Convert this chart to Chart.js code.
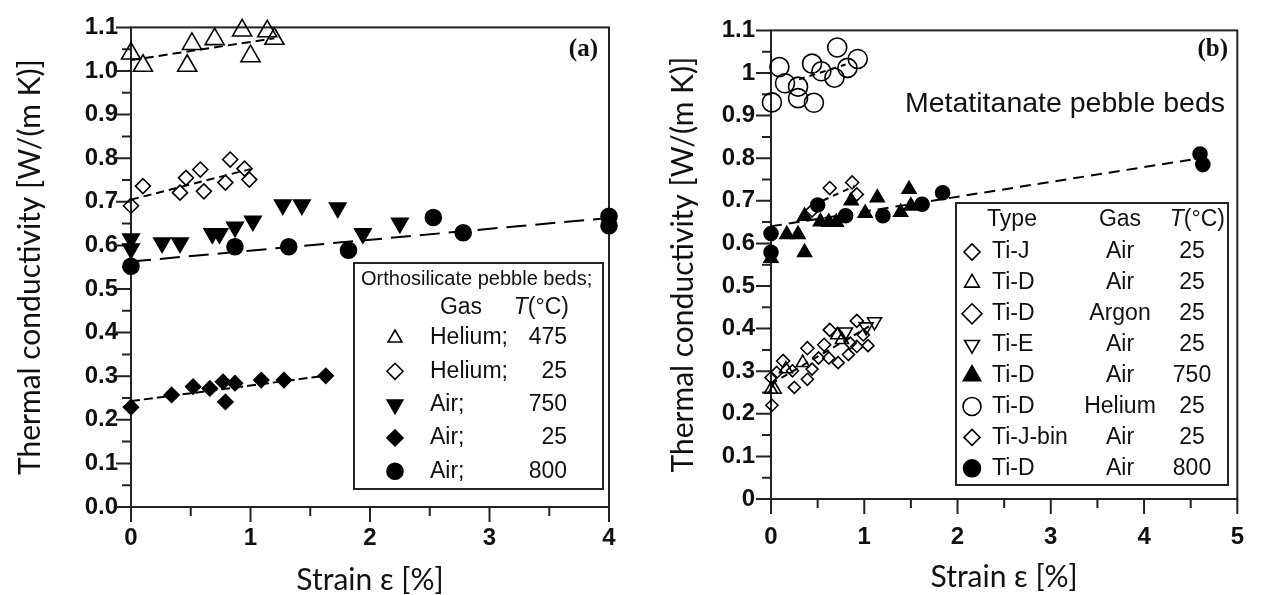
<!DOCTYPE html>
<html>
<head>
<meta charset="utf-8">
<script src="https://cdn.jsdelivr.net/npm/chart.js@4.4.1/dist/chart.umd.min.js"></script>
<style>
html, body { margin: 0; padding: 0; background: #fff; }
#wrap { position: relative; width: 1268px; height: 595px; overflow: hidden; }
canvas { position: absolute; top: 0; }
</style>
</head>
<body>
<div id="wrap">
  <canvas id="chartA" width="634" height="595" style="left:0"></canvas>
  <canvas id="chartB" width="634" height="595" style="left:634px"></canvas>
</div>
<script>
// ---- panel (a): orthosilicate pebble beds ----
const xTicksA = [0, 1, 2, 3, 4];
const yTicksA = [0, 0.1, 0.2, 0.3, 0.4, 0.5, 0.6, 0.7, 0.8, 0.9, 1.0, 1.1];
const yLabelsA = ["0.0", "0.1", "0.2", "0.3", "0.4", "0.5", "0.6", "0.7", "0.8", "0.9", "1.0", "1.1"];

const he475X = [0, 0.10, 0.47, 0.51, 0.70, 0.93, 1.00, 1.14, 1.20];
const he475Y = [1.040, 1.012, 1.012, 1.062, 1.073, 1.093, 1.034, 1.091, 1.074];
const he25X = [0, 0.10, 0.41, 0.46, 0.58, 0.61, 0.79, 0.83, 0.95, 0.99];
const he25Y = [0.691, 0.736, 0.721, 0.755, 0.774, 0.724, 0.744, 0.797, 0.776, 0.751];
const air750X = [0, 0, 0.26, 0.41, 0.68, 0.74, 0.87, 1.02, 1.27, 1.43, 1.73, 1.94, 2.25];
const air750Y = [0.615, 0.592, 0.606, 0.606, 0.627, 0.627, 0.642, 0.656, 0.693, 0.693, 0.686, 0.627, 0.651];
const air25X = [0, 0.34, 0.52, 0.66, 0.77, 0.79, 0.87, 1.09, 1.28, 1.63];
const air25Y = [0.229, 0.257, 0.276, 0.272, 0.287, 0.241, 0.284, 0.291, 0.291, 0.301];
const air800X = [0, 0.87, 1.32, 1.82, 2.53, 2.78, 4.0, 4.0];
const air800Y = [0.552, 0.597, 0.597, 0.589, 0.664, 0.629, 0.667, 0.645];

// dashed fit lines (end points)
const fitHe475X = [0, 1.2], fitHe475Y = [1.025, 1.075];
const fitHe25X = [0, 1.0], fitHe25Y = [0.705, 0.775];
const fitAir800X = [0, 4.0], fitAir800Y = [0.563, 0.663];
const fitAir25X = [0, 1.6], fitAir25Y = [0.243, 0.300];

const legendGasA = ["Helium;", "Helium;", "Air;", "Air;", "Air;"];
const legendTempA = ["475", "25", "750", "25", "800"];

// ---- panel (b): metatitanate pebble beds ----
const xTicksB = [0, 1, 2, 3, 4, 5];
const yTicksB = [0, 0.1, 0.2, 0.3, 0.4, 0.5, 0.6, 0.7, 0.8, 0.9, 1.0, 1.1];
const yLabelsB = ["0", "0.1", "0.2", "0.3", "0.4", "0.5", "0.6", "0.7", "0.8", "0.9", "1", "1.1"];

const tiJX = [0.01, 0.25, 0.39, 0.51, 0.62, 0.72, 0.83, 1.04];
const tiJY = [0.220, 0.262, 0.281, 0.331, 0.331, 0.320, 0.339, 0.360];
const tiDAirX = [0, 0.04, 0.16, 0.34, 0.71, 0.76];
const tiDAirY = [0.257, 0.257, 0.305, 0.320, 0.385, 0.374];
const tiDArgonX = [0.13, 0.39, 0.57, 0.63, 0.92, 0.44, 0.63, 0.87, 0.92];
const tiDArgonY = [0.324, 0.354, 0.362, 0.397, 0.418, 0.677, 0.730, 0.743, 0.715];
const tiEX = [0.80, 1.02, 1.11];
const tiEY = [0.392, 0.404, 0.416];
const tiD750X = [0, 0.17, 0.29, 0.36, 0.36, 0.53, 0.62, 0.70, 0.86, 1.01, 1.14, 1.39, 1.48, 1.50];
const tiD750Y = [0.565, 0.621, 0.621, 0.579, 0.664, 0.651, 0.650, 0.650, 0.700, 0.671, 0.707, 0.673, 0.727, 0.688];
const tiDHeX = [0.01, 0.09, 0.15, 0.29, 0.29, 0.44, 0.46, 0.54, 0.68, 0.71, 0.82, 0.93];
const tiDHeY = [0.931, 1.014, 0.976, 0.968, 0.941, 1.022, 0.930, 1.004, 0.989, 1.060, 1.012, 1.033];
const tiJbinX = [0, 0.06, 0.23, 0.44, 0.85, 0.92, 0.99];
const tiJbinY = [0.285, 0.297, 0.301, 0.305, 0.366, 0.358, 0.385];
const tiD800X = [0, 0, 0.50, 0.80, 1.20, 1.62, 1.84, 4.60, 4.63];
const tiD800Y = [0.623, 0.579, 0.690, 0.665, 0.665, 0.692, 0.719, 0.810, 0.785];

const fitHeBX = [0.3, 0.8], fitHeBY = [0.985, 1.02];
const fitUpperX = [0, 4.6], fitUpperY = [0.64, 0.80];
const fitArgonX = [0.45, 0.9], fitArgonY = [0.69, 0.735];
const fitLowerX = [0, 1.05], fitLowerY = [0.27, 0.405];

const legendTypeB = ["Ti-J", "Ti-D", "Ti-D", "Ti-E", "Ti-D", "Ti-D", "Ti-J-bin", "Ti-D"];
const legendGasB = ["Air", "Air", "Argon", "Air", "Air", "Helium", "Air", "Air"];
const legendTempB = ["25", "25", "25", "25", "750", "25", "25", "800"];

Chart.defaults.font.family = "'Liberation Sans', Arial, sans-serif";
Chart.defaults.color = "#000";

const OPEN = "rgba(0,0,0,0)";
const pts = (xs, ys) => xs.map((x, i) => ({ x: x, y: ys[i] }));

const markers = (label, xs, ys, style, r, filled, rot) => ({
    type: "scatter",
    label: label,
    data: pts(xs, ys),
    pointStyle: style,
    pointRadius: r,
    pointHoverRadius: r,
    pointRotation: rot || 0,
    pointBorderWidth: 1.6,
    pointBorderColor: "#000",
    pointBackgroundColor: filled ? "#000" : OPEN,
    showLine: false,
    clip: false,
});

const fitLine = (xs, ys, dash) => ({
    type: "line",
    label: "fit",
    data: pts(xs, ys),
    borderColor: "#000",
    borderWidth: 2,
    borderDash: dash,
    pointRadius: 0,
    fill: false,
    clip: false,
});

// frame + outward major/minor ticks
const frameTicks = {
    id: "frameTicks",
    beforeDatasetsDraw(chart) {
        const { ctx, chartArea: a, scales } = chart;
        ctx.save();
        ctx.strokeStyle = "#222";
        ctx.lineWidth = 2;
        ctx.strokeRect(a.left, a.top, a.right - a.left, a.bottom - a.top);
        ctx.beginPath();
        const xt = scales.x.ticks.map((t) => t.value);
        xt.forEach((v, i) => {
            const p = scales.x.getPixelForValue(v);
            ctx.moveTo(p, a.bottom);
            ctx.lineTo(p, a.bottom + 15);
            if (i < xt.length - 1) {
                const m = scales.x.getPixelForValue((v + xt[i + 1]) / 2);
                ctx.moveTo(m, a.bottom);
                ctx.lineTo(m, a.bottom + 9);
            }
        });
        const yt = scales.y.ticks.map((t) => t.value);
        yt.forEach((v, i) => {
            const p = scales.y.getPixelForValue(v);
            ctx.moveTo(a.left, p);
            ctx.lineTo(a.left - 15, p);
            if (i < yt.length - 1) {
                const m = scales.y.getPixelForValue((v + yt[i + 1]) / 2);
                ctx.moveTo(a.left, m);
                ctx.lineTo(a.left - 9, m);
            }
        });
        ctx.stroke();
        ctx.restore();
    },
};

const symbol = (ctx, style, r, filled, rot, x, y) => {
    ctx.save();
    ctx.strokeStyle = "#000";
    ctx.fillStyle = filled ? "#000" : OPEN;
    ctx.lineWidth = 1.6;
    Chart.helpers.drawPoint(ctx, { pointStyle: style, radius: r, rotation: rot || 0, borderWidth: 1.6 }, x, y);
    ctx.restore();
};

const makeOptions = (xTicks, yTicks, yLabels, o) => ({
    responsive: false,
    animation: false,
    events: [],
    layout: { padding: { top: 21, right: o.padRight, left: 0, bottom: 0 } },
    plugins: { legend: { display: false }, tooltip: { enabled: false } },
    scales: {
        x: {
            type: "linear",
            min: xTicks[0],
            max: xTicks[xTicks.length - 1],
            afterBuildTicks: (s) => { s.ticks = xTicks.map((v) => ({ value: v })); },
            afterFit: (s) => { s.height = o.xHeight; },
            grid: { display: false, drawTicks: false },
            border: { display: false },
            ticks: { font: { size: 24, weight: "bold" }, color: "#111", padding: o.xPad, maxRotation: 0, autoSkip: false },
            title: {
                display: true,
                text: "Strain ε [%]",
                font: { family: "Lato", size: 30, lineHeight: 1 },
                color: "#111",
                padding: { top: 0, bottom: o.xTitlePad },
            },
        },
        y: {
            type: "linear",
            min: yTicks[0],
            max: yTicks[yTicks.length - 1],
            afterBuildTicks: (s) => { s.ticks = yTicks.map((v) => ({ value: v })); },
            afterFit: (s) => { s.width = o.yWidth; },
            grid: { display: false, drawTicks: false },
            border: { display: false },
            ticks: {
                font: { size: 24, weight: "bold" },
                color: "#111",
                padding: o.yPad,
                autoSkip: false,
                callback: (v, i) => yLabels[i],
            },
            title: {
                display: true,
                text: "Thermal conductivity [W/(m K)]",
                font: { family: "Lato", size: 30, lineHeight: 1 },
                color: "#111",
                padding: { top: o.yTitlePad, bottom: 0 },
            },
        },
    },
});

const legendA = {
    id: "legendA",
    afterDraw(chart) {
        const ctx = chart.ctx;
        ctx.save();
        ctx.strokeStyle = "#222";
        ctx.lineWidth = 2;
        ctx.strokeRect(354, 263, 249, 226);
        ctx.fillStyle = "#111";
        ctx.textBaseline = "middle";
        ctx.font = "20px 'Liberation Sans'";
        ctx.textAlign = "left";
        ctx.fillText("Orthosilicate pebble beds;", 361, 279);
        ctx.font = "23px 'Liberation Sans'";
        ctx.textAlign = "center";
        ctx.fillText("Gas", 461, 308);
        ctx.textAlign = "right";
        ctx.fillText("(°C)", 569, 308);
        const w = ctx.measureText("(°C)").width;
        ctx.font = "italic 23px 'Liberation Sans'";
        ctx.fillText("T", 569 - w, 308);
        ctx.font = "23px 'Liberation Sans'";
        const styles = [["triangle", 8, false, 0], ["rectRot", 8, false, 0], ["triangle", 9, true, 180], ["rectRot", 8, true, 0], ["circle", 8, true, 0]];
        legendGasA.forEach((g, i) => {
            const y = 338 + i * 33.3;
            const s = styles[i];
            symbol(ctx, s[0], s[1], s[2], s[3], 395, y);
            ctx.fillStyle = "#111";
            ctx.textAlign = "left";
            ctx.fillText(g, 430, y);
            ctx.textAlign = "right";
            ctx.fillText(legendTempA[i], 567, y);
        });
        ctx.font = "bold 25px 'Liberation Serif'";
        ctx.textAlign = "right";
        ctx.fillText("(a)", 598, 50);
        ctx.restore();
    },
};

const legendB = {
    id: "legendB",
    afterDraw(chart) {
        const ctx = chart.ctx;
        ctx.save();
        ctx.strokeStyle = "#222";
        ctx.lineWidth = 2;
        ctx.strokeRect(322, 203, 272, 282);
        ctx.fillStyle = "#111";
        ctx.textBaseline = "middle";
        ctx.font = "23px 'Liberation Sans'";
        ctx.textAlign = "center";
        ctx.fillText("Type", 378, 220);
        ctx.fillText("Gas", 486, 220);
        ctx.textAlign = "right";
        ctx.fillText("(°C)", 591, 220);
        const w = ctx.measureText("(°C)").width;
        ctx.font = "italic 23px 'Liberation Sans'";
        ctx.fillText("T", 591 - w, 220);
        ctx.font = "23px 'Liberation Sans'";
        const styles = [["rectRot", 8, false, 0], ["triangle", 8.5, false, 0], ["rectRot", 10, false, 0], ["triangle", 8.5, false, 180],
            ["triangle", 10, true, 0], ["circle", 9, false, 0], ["rectRot", 8, false, 0], ["circle", 8.5, true, 0]];
        legendTypeB.forEach((t, i) => {
            const y = 252 + i * 30.9;
            const s = styles[i];
            symbol(ctx, s[0], s[1], s[2], s[3], 338, y);
            ctx.fillStyle = "#111";
            ctx.textAlign = "left";
            ctx.fillText(t, 358, y);
            ctx.textAlign = "center";
            ctx.fillText(legendGasB[i], 486, y);
            ctx.fillText(legendTempB[i], 558, y);
        });
        ctx.textAlign = "left";
        ctx.font = "28.5px 'Liberation Sans'";
        ctx.fillText("Metatitanate pebble beds", 271, 104);
        ctx.font = "bold 25px 'Liberation Serif'";
        ctx.textAlign = "right";
        ctx.fillText("(b)", 594, 50);
        ctx.restore();
    },
};

new Chart(document.getElementById("chartA"), {
    type: "scatter",
    data: {
        datasets: [
            markers("Helium 475", he475X, he475Y, "triangle", 11, false, 0),
            markers("Helium 25", he25X, he25Y, "rectRot", 7.5, false, 0),
            markers("Air 750", air750X, air750Y, "triangle", 9.5, true, 180),
            markers("Air 25", air25X, air25Y, "rectRot", 7.5, true, 0),
            markers("Air 800", air800X, air800Y, "circle", 8, true, 0),
            fitLine(fitHe475X, fitHe475Y, [9, 5]),
            fitLine(fitHe25X, fitHe25Y, [8, 5]),
            fitLine(fitAir800X, fitAir800Y, [20, 9]),
            fitLine(fitAir25X, fitAir25Y, [9, 4]),
        ],
    },
    options: makeOptions(xTicksA, yTicksA, yLabelsA, {
        padRight: 25, xHeight: 88, yWidth: 131, xPad: 17, yPad: 13, xTitlePad: 0, yTitlePad: 15,
    }),
    plugins: [frameTicks, legendA],
});

new Chart(document.getElementById("chartB"), {
    type: "scatter",
    data: {
        datasets: [
            markers("Ti-J Air 25", tiJX, tiJY, "rectRot", 6, false, 0),
            markers("Ti-D Air 25", tiDAirX, tiDAirY, "triangle", 7.5, false, 0),
            markers("Ti-D Argon 25", tiDArgonX, tiDArgonY, "rectRot", 6.5, false, 0),
            markers("Ti-E Air 25", tiEX, tiEY, "triangle", 8, false, 180),
            markers("Ti-D Air 750", tiD750X, tiD750Y, "triangle", 8, true, 0),
            markers("Ti-D Helium 25", tiDHeX, tiDHeY, "circle", 9.5, false, 0),
            markers("Ti-J-bin Air 25", tiJbinX, tiJbinY, "rectRot", 6, false, 0),
            markers("Ti-D Air 800", tiD800X, tiD800Y, "circle", 7, true, 0),
            fitLine(fitHeBX, fitHeBY, [6, 5]),
            fitLine(fitUpperX, fitUpperY, [11, 7]),
            fitLine(fitArgonX, fitArgonY, [6, 5]),
            fitLine(fitLowerX, fitLowerY, [7, 5]),
        ],
    },
    options: makeOptions(xTicksB, yTicksB, yLabelsB, {
        padRight: 21, xHeight: 96, yWidth: 137, xPad: 24, yPad: 16, xTitlePad: 3, yTitlePad: 34,
    }),
    plugins: [frameTicks, legendB],
});
</script>
</body>
</html>
